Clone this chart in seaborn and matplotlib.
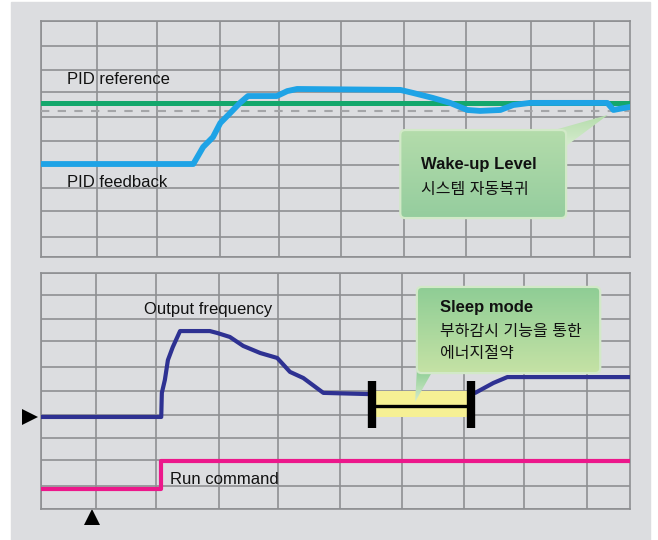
import numpy as np
import matplotlib
matplotlib.use("Agg")
import matplotlib.pyplot as plt
import seaborn as sns
from matplotlib.patches import Rectangle, FancyBboxPatch, Polygon
from matplotlib.colors import LinearSegmentedColormap

# ---- top panel: PID signals (x, y in grid divisions) ----
fb_t = [0.00, 2.48, 2.64, 2.80, 2.92, 3.08, 3.24, 3.37, 3.84, 4.01, 4.17, 5.85,
        6.06, 6.38, 6.66, 6.94, 7.15, 7.48, 7.69, 7.96, 9.22, 9.32, 9.59]
fb_v = [3.94, 3.94, 4.66, 5.08, 5.68, 6.10, 6.53, 6.82, 6.82, 7.03, 7.12, 7.08,
        6.95, 6.74, 6.53, 6.23, 6.19, 6.23, 6.44, 6.53, 6.53, 6.23, 6.36]
ref_t = [0.00, 9.59]
ref_v = [6.53, 6.53]
wake_level = 6.19

# ---- bottom panel: output frequency / run command ----
freq_t_run = [0.00, 1.98, 1.99, 2.04, 2.09, 2.17, 2.29, 2.78, 2.90, 3.11, 3.33,
              3.61, 3.89, 4.10, 4.32, 4.65, 5.39]
freq_v_run = [3.90, 3.90, 4.92, 5.47, 6.31, 6.86, 7.54, 7.54, 7.46, 7.29, 6.91,
              6.61, 6.40, 5.81, 5.55, 4.92, 4.87]
freq_t_wake = [7.15, 7.45, 7.68, 9.70]
freq_v_wake = [4.92, 5.34, 5.59, 5.59]
run_t = [0.00, 1.98, 1.98, 9.70]
run_v = [0.85, 0.85, 2.03, 2.03]
sleep_start, sleep_end = 5.45, 7.08

# scope graticule (hand-drawn grid is not quite even)
top_xgrid = [0, 0.91, 1.89, 2.92, 3.88, 4.89, 5.91, 6.92, 7.98, 9.01]
top_ygrid = [0, 0.85, 1.95, 2.92, 3.90, 4.92, 5.93, 6.99, 7.92, 8.94, 10]
bot_xgrid = [0, 0.91, 1.89, 2.93, 3.90, 4.93, 5.95, 6.97, 7.96, 9.00]
bot_ygrid = [0, 0.97, 2.08, 3.01, 3.98, 5.00, 6.02, 7.12, 8.05, 9.07, 10]

BG = "#dcdde0"
GRID = "#8e8f92"

sns.set_style("white")
plt.rcParams["font.family"] = ["Liberation Sans", "Noto Sans CJK KR"]

fig = plt.figure(figsize=(6.58, 5.40), dpi=100)
fig.patches.append(Rectangle((11 / 658, 0), 639 / 658, 538 / 540,
                             transform=fig.transFigure, color=BG, zorder=-10))

ax1 = fig.add_axes([41 / 658, 1 - 257 / 540, 589 / 658, 236 / 540])
ax2 = fig.add_axes([41 / 658, 1 - 509 / 540, 589 / 658, 236 / 540])


def style_panel(ax, xmax, xg, yg):
    ax.set_facecolor(BG)
    ax.set_xlim(0, xmax)
    ax.set_ylim(0, 10)
    ax.set_xticks(xg)
    ax.set_yticks(yg)
    ax.tick_params(length=0, labelbottom=False, labelleft=False)
    ax.grid(True, color=GRID, lw=1.2)
    for s in ax.spines.values():
        s.set_color(GRID)
        s.set_linewidth(1.2)
    ax.set_xlabel("")
    ax.set_ylabel("")


def callout(ax, x0, y0, x1, y1, tail, top, bottom):
    xl, yl = ax.get_xlim(), ax.get_ylim()
    cmap = LinearSegmentedColormap.from_list("g", [bottom, top])
    grad = np.linspace(0, 1, 64).reshape(-1, 1)
    tri = Polygon(tail, closed=True, fc="none", ec="none", zorder=6)
    ax.add_patch(tri)
    tx = [p[0] for p in tail]
    ty = [p[1] for p in tail]
    tcmap = LinearSegmentedColormap.from_list("t", ["#d6ecce", top])
    im = ax.imshow(grad, cmap=tcmap, origin="lower", aspect="auto", zorder=6,
                   extent=(min(tx), max(tx), min(ty), max(ty)))
    im.set_clip_path(tri)
    box = FancyBboxPatch((x0, y0), x1 - x0, y1 - y0,
                         boxstyle="round,pad=0,rounding_size=0.08",
                         mutation_aspect=2.6, fc="none", ec="#d2e9c8",
                         lw=1.6, zorder=8)
    ax.add_patch(box)
    im = ax.imshow(grad, cmap=cmap, origin="lower", aspect="auto", zorder=7,
                   extent=(x0, x1, y0, y1))
    im.set_clip_path(box)
    ax.set_xlim(xl)
    ax.set_ylim(yl)


# ---- top panel ----
style_panel(ax1, 9.59, top_xgrid, top_ygrid)
ax1.axhline(wake_level, color="#a4a5a8", lw=1.5, ls=(0, (4, 4)), zorder=3)
sns.lineplot(x=ref_t, y=ref_v, ax=ax1, color="#14a76c", lw=3.6,
             estimator=None, sort=False, zorder=4)
sns.lineplot(x=fb_t, y=fb_v, ax=ax1, color="#1ea3e6", lw=4.2,
             estimator=None, sort=False, zorder=5)
ax1.text(0.42, 7.5, "PID reference", fontsize=12, va="center", color="#111111")
ax1.text(0.42, 3.14, "PID feedback", fontsize=12, va="center", color="#111111")
callout(ax1, 5.85, 1.65, 8.55, 5.38,
        [(8.25, 5.30), (8.55, 4.70), (9.23, 6.02)], "#b4dcab", "#95cd9e")
ax1.text(6.19, 3.90, "Wake-up Level", fontsize=12, fontweight="bold",
         va="center", color="#111111", zorder=9)
ax1.text(6.19, 2.84, "시스템 자동복귀", fontsize=11.5, va="center",
         color="#111111", zorder=9)

# ---- bottom panel ----
style_panel(ax2, 9.70, bot_xgrid, bot_ygrid)
sns.lineplot(x=freq_t_run, y=freq_v_run, ax=ax2, color="#2e3192", lw=3.0,
             estimator=None, sort=False, zorder=4)
sns.lineplot(x=freq_t_wake, y=freq_v_wake, ax=ax2, color="#2e3192", lw=3.0,
             estimator=None, sort=False, zorder=4)
sns.lineplot(x=run_t, y=run_v, ax=ax2, color="#ec178b", lw=3.0,
             estimator=None, sort=False, zorder=4)

ax2.add_patch(Rectangle((sleep_start, 3.90), sleep_end - sleep_start, 1.10,
                        fc="#f6f094", ec="none", zorder=5))
ax2.plot([sleep_start, sleep_end], [4.36, 4.36], color="black", lw=2.4, zorder=6)
for xs in (sleep_start, sleep_end):
    ax2.plot([xs, xs], [3.43, 5.42], color="black", lw=6,
             solid_capstyle="butt", zorder=6)

callout(ax2, 6.19, 5.76, 9.21, 9.41,
        [(6.19, 5.85), (6.45, 5.85), (6.16, 4.53)], "#8ecd95", "#c5e2a5")
ax2.text(6.57, 8.52, "Sleep mode", fontsize=12, fontweight="bold",
         va="center", color="#111111", zorder=9)
ax2.text(6.57, 7.50, "부하감시 기능을 통한", fontsize=11.5, va="center",
         color="#111111", zorder=9)
ax2.text(6.57, 6.61, "에너지절약", fontsize=11.5, va="center",
         color="#111111", zorder=9)

ax2.text(1.70, 8.47, "Output frequency", fontsize=12, va="center", color="#111111")
ax2.text(2.13, 1.27, "Run command", fontsize=12, va="center", color="#111111")

ax2.plot([-0.18], [3.90], marker=">", color="black", ms=11, mew=0, clip_on=False)
ax2.plot([0.84], [-0.32], marker="^", color="black", ms=11, mew=0, clip_on=False)

fig.savefig("out.png", dpi=100, facecolor="white")
